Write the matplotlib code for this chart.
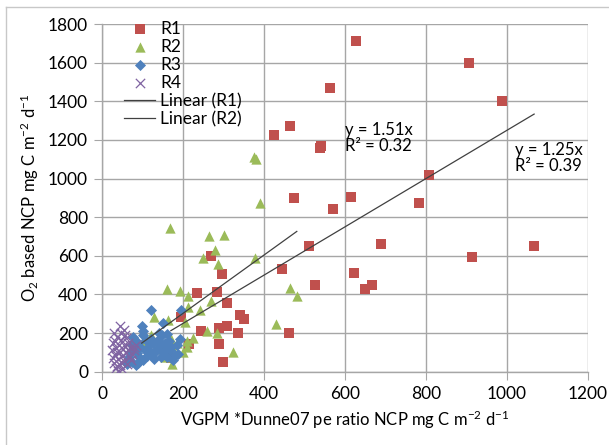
import matplotlib
matplotlib.use("Agg")
import matplotlib.pyplot as plt
from matplotlib.lines import Line2D
import numpy as np

plt.rcParams["font.family"] = ["Lato", "DejaVu Sans"]
plt.rcParams["mathtext.fontset"] = "custom"
plt.rcParams["mathtext.rm"] = "Lato"
plt.rcParams["mathtext.it"] = "Lato:italic"

# R1 (red squares)
r1_x = [626, 905, 988, 563, 807, 614, 783, 571, 424, 464, 541, 538, 475, 689, 913,
        1067, 623, 666, 650, 512, 525, 444, 297, 308, 340, 351, 308, 289, 244, 337,
        462, 288, 298, 268, 234, 283, 195, 216, 170]
r1_y = [1710, 1596, 1404, 1468, 1016, 907, 876, 840, 1223, 1273, 1171, 1157, 900, 663, 596,
        653, 511, 449, 427, 653, 451, 530, 506, 357, 295, 273, 237, 228, 212, 202,
        202, 145, 52, 601, 408, 412, 285, 144, 70]

# R2 (green triangles)
r2_x = [376, 380, 390, 168, 265, 301, 279, 249, 287, 378, 160, 193, 213, 268, 242,
        213, 129, 162, 205, 260, 283, 224, 209, 324, 174, 156, 430, 464, 481, 168,
        98, 140, 150, 185, 200, 120, 175, 210]
r2_y = [1111, 1100, 872, 745, 703, 706, 631, 588, 560, 588, 430, 420, 392, 366, 320,
        334, 285, 268, 259, 211, 199, 173, 130, 104, 42, 78, 247, 432, 392, 178,
        150, 170, 120, 150, 100, 190, 140, 160]

# R3 (blue diamonds)
r3_x = [122, 195, 98, 151, 160, 193, 147, 77, 102, 127, 73, 94, 114, 143, 168,
        180, 160, 119, 86, 73, 102, 128, 70, 81, 109, 138, 151, 184, 89, 62,
        90, 105, 120, 135, 155, 170, 112, 80, 95, 130, 145, 165, 188, 100, 66,
        140, 175, 118, 84, 158]
r3_y = [320, 320, 237, 251, 195, 170, 190, 181, 190, 147, 138, 130, 118, 138, 112,
        86, 78, 95, 95, 52, 61, 65, 100, 164, 164, 164, 104, 138, 45, 40,
        150, 110, 170, 120, 150, 130, 80, 125, 70, 100, 75, 160, 90, 210, 75,
        200, 60, 145, 35, 120]

# R4 (purple crosses)
r4_x = [44, 55, 30, 38, 60, 48, 28, 42, 65, 35, 52, 70, 25, 45, 60, 80, 33, 50,
        68, 40, 55, 30, 45, 62, 35, 50, 40, 75, 58, 85, 27, 48, 38, 72, 55,
        32, 64, 46, 78, 36]
r4_y = [235, 215, 200, 180, 175, 165, 150, 140, 150, 125, 120, 125, 110, 100, 95, 110, 85, 80,
        75, 65, 55, 45, 35, 40, 20, 15, 5, 90, 190, 140, 70, 200, 100, 60, 140,
        160, 110, 50, 130, 30]

# trendlines through origin
slope_r1, r2_r1 = 1.25, 0.39
slope_r2, r2_r2 = 1.51, 0.32

fig = plt.figure(figsize=(6.09, 4.45), dpi=100)
ax = fig.add_axes([0.1675, 0.1647, 0.798, 0.7813])

grid_c = "#a6a6a6"
ax.scatter(r1_x, r1_y, marker="s", s=45, color="#c0504d", zorder=3, label="R1", linewidths=0)
ax.scatter(r2_x, r2_y, marker="^", s=55, color="#9bbb59", zorder=4, label="R2", linewidths=0)
ax.scatter(r3_x, r3_y, marker="D", s=32, color="#4f81bd", zorder=5, label="R3", linewidths=0)
ax.scatter(r4_x, r4_y, marker="x", s=45, color="#8064a2", zorder=6, label="R4", linewidths=0.9)

lx1 = np.array([min(r1_x), max(r1_x)])
lx2 = np.array([min(r2_x), max(r2_x)])
ax.plot(lx1, slope_r1 * lx1, color="#404040", lw=0.9, zorder=7, label="Linear (R1)")
ax.plot(lx2, slope_r2 * lx2, color="#404040", lw=0.9, zorder=7, label="Linear (R2)")

ax.text(600, 1295, f"y = {slope_r2}x\nR² = {r2_r2}", fontsize=12, va="top", ha="left",
        linespacing=1.0, zorder=8)
ax.text(1020, 1190, f"y = {slope_r1}x\nR² = {r2_r1}", fontsize=12, va="top", ha="left",
        linespacing=1.0, zorder=8)

ax.set_xlim(0, 1200)
ax.set_ylim(0, 1800)
ax.set_xticks(range(0, 1201, 200))
ax.set_yticks(range(0, 1801, 200))
ax.grid(True, color=grid_c, lw=1.0, zorder=0)
ax.set_axisbelow(True)
for side in ["top", "right"]:
    ax.spines[side].set_visible(False)
for side in ["left", "bottom"]:
    ax.spines[side].set_color(grid_c)
    ax.spines[side].set_linewidth(1.0)
ax.tick_params(axis="both", direction="out", length=6, color=grid_c, labelsize=12.5, pad=4)

ax.set_xlabel("VGPM *Dunne07 pe ratio NCP mg C m$^{-2}$ d$^{-1}$", fontsize=12, labelpad=5)
ax.set_ylabel("O$_2$ based NCP mg C m$^{-2}$ d$^{-1}$", fontsize=12, labelpad=5)

leg = ax.legend(loc="upper left", bbox_to_anchor=(0.02, 1.045), frameon=False, fontsize=12.5,
                handlelength=1.8, handletextpad=0.3, labelspacing=0.12, borderpad=0.2,
                scatterpoints=1)

# outer chart border (top and left)
fig.add_artist(Line2D([6 / 609, 1.0], [1 - 7 / 445, 1 - 7 / 445], color="#c8c8c8", lw=1.0))
fig.add_artist(Line2D([6 / 609, 6 / 609], [0.0, 1 - 7 / 445], color="#c8c8c8", lw=1.0))

fig.savefig("out.png", dpi=100)
